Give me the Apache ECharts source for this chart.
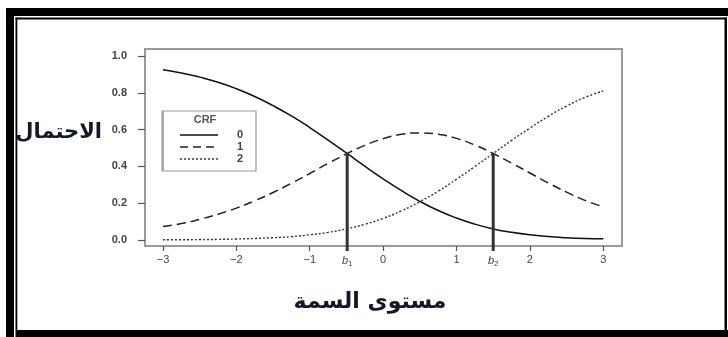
<!DOCTYPE html>
<html>
<head>
<meta charset="utf-8">
<script src="https://cdn.jsdelivr.net/npm/echarts@6/dist/echarts.min.js"></script>
<style>
html,body{margin:0;padding:0;background:#fff;}
#chart{width:728px;height:337px;}
</style>
</head>
<body>
<div id="chart"></div>
<script>
// ---- data ----
const theta = [-3,-2.75,-2.5,-2.25,-2,-1.75,-1.5,-1.25,-1,-0.75,-0.5,-0.25,0,0.25,0.5,0.75,1,1.25,1.5,1.75,2,2.25,2.5,2.75,3];
const crf0 = [0.925,0.908,0.885,0.857,0.822,0.780,0.730,0.674,0.611,0.543,0.473,0.401,0.332,0.268,0.210,0.160,0.119,0.086,0.060,0.042,0.028,0.018,0.012,0.008,0.006];
const crf1 = [0.073,0.089,0.112,0.140,0.173,0.213,0.258,0.308,0.361,0.416,0.468,0.514,0.550,0.574,0.582,0.574,0.552,0.516,0.470,0.418,0.364,0.310,0.260,0.215,0.180];
const crf2 = [0.001,0.001,0.002,0.003,0.005,0.008,0.012,0.018,0.028,0.041,0.060,0.085,0.117,0.158,0.208,0.265,0.330,0.399,0.470,0.541,0.608,0.672,0.728,0.775,0.810];
const legendNames = ['0','1','2'];
const b1 = -0.49, b2 = 1.5, crossY = 0.47;
const xTicks = [-3,-2,-1,b1,0,1,b2,2,3];
const yTicks = [0,0.2,0.4,0.6,0.8,1.0];
const yTitle = 'الاحتمال';
const xTitle = 'مستوى السمة';
const legendTitle = 'CRF';

const pairs = arr => theta.map((t,i)=>[t,arr[i]]);
const dashes = [null,[8,5],[2,2]];
const lineColors = ['#111','#222','#333'];

const legendGraphics = [];
legendNames.forEach((n,i)=>{
  const y = 135 + i*12;
  legendGraphics.push({type:'line',shape:{x1:180,y1:y,x2:218,y2:y},style:{stroke:lineColors[i],lineWidth:1.4,lineDash:dashes[i]},z:10});
  legendGraphics.push({type:'text',x:237,y:y,style:{text:n,fill:'#444',font:'bold 11px "Liberation Sans"',verticalAlign:'middle'},z:10});
});

const chart = echarts.init(document.getElementById('chart'));
chart.setOption({
  animation:false,
  backgroundColor:'#fff',
  grid:{left:145,right:106,top:49,bottom:91,show:true,borderColor:'#9a9a9a',borderWidth:2,backgroundColor:'transparent'},
  xAxis:{type:'value',min:-3.245,max:3.255,
    axisLine:{show:false,onZero:false},splitLine:{show:false},
    axisTick:{show:true,length:5,customValues:xTicks,lineStyle:{color:'#555',width:1.2}},
    axisLabel:{customValues:xTicks,margin:8,color:'#444',fontSize:11,fontFamily:'Liberation Sans',
      formatter:v=>{ if(Math.abs(v-b1)<1e-6) return '{i|b}{s|1}'; if(Math.abs(v-b2)<1e-6) return '{i|b}{s|2}'; return (v<0?'\u2212'+(-v):String(v)); },
      rich:{i:{fontStyle:'italic',fontSize:11,color:'#444',fontFamily:'Liberation Sans'},s:{fontSize:8,color:'#444',verticalAlign:'bottom',padding:[6,0,0,0]}}}},
  yAxis:{type:'value',min:-0.033,max:1.038,
    axisLine:{show:false,onZero:false},splitLine:{show:false},
    axisTick:{show:true,length:7,customValues:yTicks,lineStyle:{color:'#555',width:1.2}},
    axisLabel:{customValues:yTicks,margin:18,color:'#444',fontSize:11,fontWeight:'bold',fontFamily:'Liberation Sans',formatter:v=>v.toFixed(1)}},
  graphic:[
    {type:'rect',shape:{x:162,y:111,width:94,height:60},style:{fill:'none',stroke:'#999',lineWidth:1.2},z:10},
    {type:'rect',shape:{x:162,y:111,width:2,height:60},style:{fill:'#aaa'},z:10},
    {type:'text',x:205,y:120,style:{text:legendTitle,fill:'#555',font:'bold 11px "Liberation Sans"',align:'center',verticalAlign:'middle'},z:10},
    ...legendGraphics,
    {type:'text',x:102,y:133,style:{text:yTitle,fill:'#10182a',font:'bold 21px "DejaVu Sans"',align:'right',verticalAlign:'middle'},z:5},
    {type:'text',x:370,y:302,style:{text:xTitle,fill:'#10182a',font:'bold 22px "DejaVu Sans"',align:'center',verticalAlign:'middle'},z:5},
    // frame
    {type:'rect',shape:{x:6,y:8,width:722,height:8},style:{fill:'#000'},z:20},
    {type:'rect',shape:{x:6,y:8,width:8,height:329},style:{fill:'#000'},z:20},
    {type:'rect',shape:{x:15.5,y:17.5,width:711,height:2},style:{fill:'#000'},z:20},
    {type:'rect',shape:{x:15.5,y:17.5,width:1.8,height:313},style:{fill:'#000'},z:20},
    {type:'rect',shape:{x:724.5,y:17.5,width:2.5,height:313},style:{fill:'#000'},z:20},
    {type:'rect',shape:{x:15.5,y:330,width:712.5,height:7},style:{fill:'#000'},z:20}
  ],
  series:[
    {name:legendNames[0],type:'line',data:pairs(crf0),smooth:true,symbol:'none',lineStyle:{color:lineColors[0],width:1.5,type:'solid'}},
    {name:legendNames[1],type:'line',data:pairs(crf1),smooth:true,symbol:'none',lineStyle:{color:lineColors[1],width:1.5,type:[9,5]}},
    {name:legendNames[2],type:'line',data:pairs(crf2),smooth:true,symbol:'none',lineStyle:{color:lineColors[2],width:1.4,type:[2,2]}},
    {type:'line',data:[[b1,-0.06],[b1,crossY]],symbol:'none',clip:false,lineStyle:{color:'#333',width:3},silent:true},
    {type:'line',data:[[b2,-0.06],[b2,crossY]],symbol:'none',clip:false,lineStyle:{color:'#333',width:3},silent:true}
  ]
});
</script>
</body>
</html>
